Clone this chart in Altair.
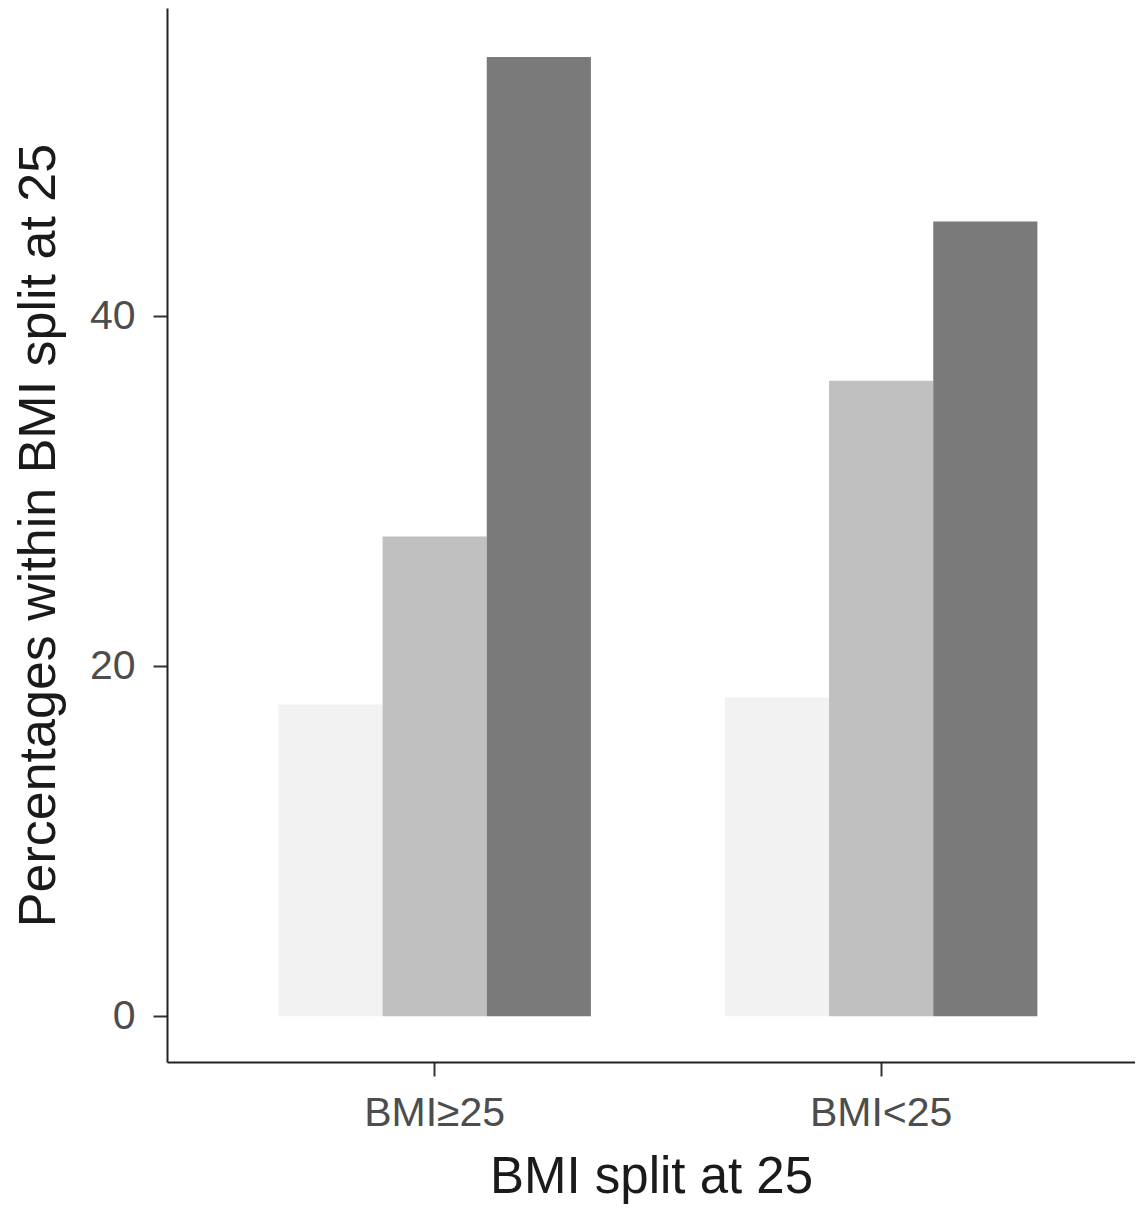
import altair as alt
import pandas as pd

groups = ["BMI≥25", "BMI<25"]
levels = ["Level 1", "Level 2", "Level 3"]
values_bmi_ge25 = [17.8, 27.4, 54.8]
values_bmi_lt25 = [18.2, 36.3, 45.4]
colors = ["#F2F2F2", "#C0C0C0", "#7A7A7A"]
y_ticks = [0, 20, 40]

rows = []
for g, vals in zip(groups, [values_bmi_ge25, values_bmi_lt25]):
    for lv, v in zip(levels, vals):
        rows.append({"group": g, "level": lv, "pct": v})
df = pd.DataFrame(rows)

FONT = "Liberation Sans"

chart = (
    alt.Chart(df)
    .mark_bar(strokeWidth=0)
    .encode(
        x=alt.X(
            "group:N",
            sort=groups,
            title="BMI split at 25",
            scale=alt.Scale(paddingInner=0.3, paddingOuter=0.234, align=0.533),
            axis=alt.Axis(
                labelAngle=0,
                labelFont=FONT,
                labelFontSize=41,
                labelColor="#4d4d4d",
                labelPadding=17,
                tickSize=14,
                tickWidth=2,
                tickColor="#333333",
                domainColor="#222222",
                domainWidth=2,
                titleFont=FONT,
                titleFontSize=51,
                titleFontWeight="normal",
                titleColor="#1a1a1a",
                titlePadding=19,
                grid=False,
            ),
        ),
        xOffset=alt.XOffset(
            "level:N", sort=levels, scale=alt.Scale(paddingInner=0, paddingOuter=0)
        ),
        y=alt.Y(
            "pct:Q",
            title="Percentages within BMI split at 25",
            scale=alt.Scale(domain=[-2.62, 57.6], nice=False, zero=False),
            axis=alt.Axis(
                values=y_ticks,
                labelFont=FONT,
                labelFontSize=41,
                labelColor="#4d4d4d",
                labelPadding=18,
                tickSize=14,
                tickWidth=2,
                tickColor="#333333",
                domainColor="#222222",
                domainWidth=2,
                titleFont=FONT,
                titleFontSize=52,
                titleFontWeight="normal",
                titleColor="#1a1a1a",
                titlePadding=24,
                grid=False,
            ),
        ),
        y2=alt.datum(0),
        color=alt.Color(
            "level:N",
            sort=levels,
            scale=alt.Scale(domain=levels, range=colors),
            legend=None,
        ),
    )
    .properties(
        width=968,
        height=1054,
        autosize=alt.AutoSizeParams(type="none"),
        padding={"left": 159, "top": 0, "right": 0, "bottom": 144},
    )
    .configure_view(stroke=None)
)

chart.save("out.html", embed_options={"renderer": "svg", "actions": False})
